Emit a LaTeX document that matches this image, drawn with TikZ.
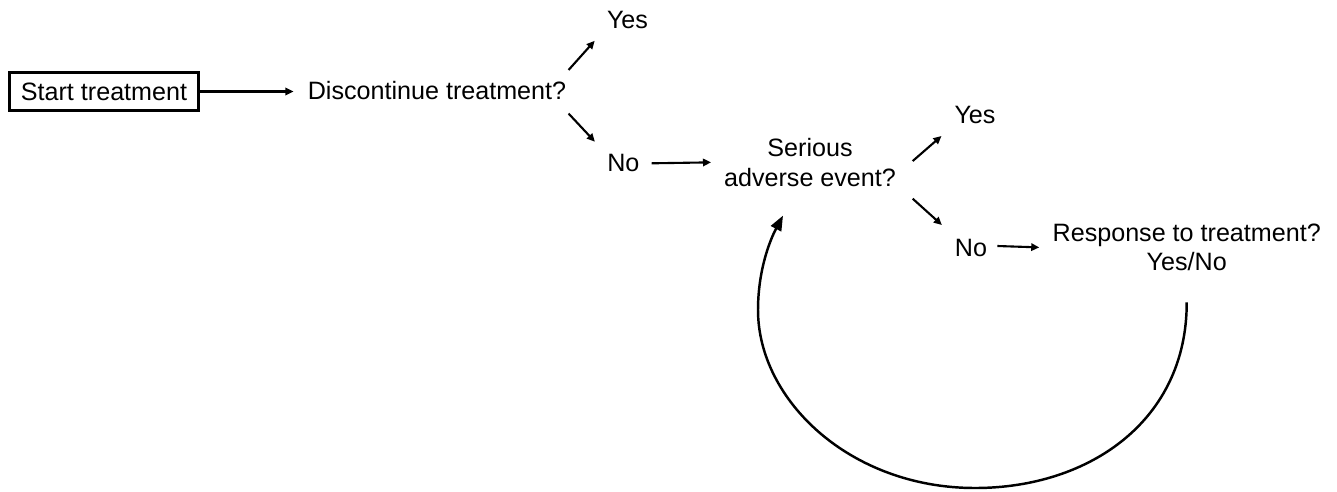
\documentclass[tikz,border=0pt]{standalone}
\usepackage{fontspec}
\setmainfont{Liberation Sans}
\usepackage{tikz}
\usetikzlibrary{arrows.meta, calc}
\definecolor{flowink}{HTML}{000000}
\tikzset{
  arr/.style={-{Triangle[length=4.6pt, width=4.2pt]}, line width=1.2pt, flowink},
  looparr/.style={-{Triangle[length=8.5pt, width=6.5pt]}, line width=1.4pt, flowink},
  flowtext/.style={inner sep=0pt, align=center, anchor=base, text=flowink, font=\fontsize{14.3}{16.7}\selectfont},
  startbox/.style={rectangle, draw=flowink, line width=1.5pt, inner sep=0pt, minimum width=3.78cm, minimum height=0.76cm, text=flowink, font=\fontsize{14.3}{16.7}\selectfont},
}

\begin{document}
\begin{tikzpicture}[x=0.02cm, y=-0.02cm]
    \useasboundingbox (0,0) rectangle (1337,491);
    % nodes
    \node[startbox] (start) at (104,91.5) {Start treatment};
    \node[flowtext] (disc) at (437,99.5) {Discontinue treatment?};
    \node[flowtext] (yesA) at (627.5,28.3) {Yes};
    \node[flowtext] (noA) at (623.3,171.7) {No};
    \node[flowtext] (serious) at (810,186) {Serious\\adverse event?};
    \node[flowtext] (yesB) at (975,123.3) {Yes};
    \node[flowtext] (noB) at (971,256) {No};
    \node[flowtext] (resp) at (1186.7,270.7) {Response to treatment?\\Yes/No};
    \coordinate (loopstart) at ($(resp.south)+(0,31)$);
    \coordinate (looptip) at ($(serious.south)+(-27,29)$);
    % connectors
    \draw[arr] (start.east) -- ($(disc.base west)+(-14,-8)$);
    \draw[arr] ($(disc.base east)+(2,-29.5)$) -- ($(yesA.base west)+(-12,12.5)$);
    \draw[arr] ($(disc.base east)+(2,14)$) -- ($(noA.base west)+(-12,-30)$);
    \draw[arr] ($(noA.base east)+(12,-8.4)$) -- ($(serious.west)+(-12.7,0)$);
    \draw[arr] ($(serious.east)+(16.4,-1.3)$) -- ($(yesB.base west)+(-12.7,12.7)$);
    \draw[arr] ($(serious.east)+(16.4,36.3)$) -- ($(noB.base west)+(-12.7,-31)$);
    \draw[arr] ($(noB.base east)+(10,-10)$) -- ($(resp.west)+(-13,0)$);
    % loop back
    \draw[looparr] (loopstart) .. controls (1187,420) and (1090,488) .. (975,488)
      .. controls (850,488) and (758,400) .. (758,310)
      .. controls (758,270) and (770,240) .. (looptip);
\end{tikzpicture}
\end{document}
